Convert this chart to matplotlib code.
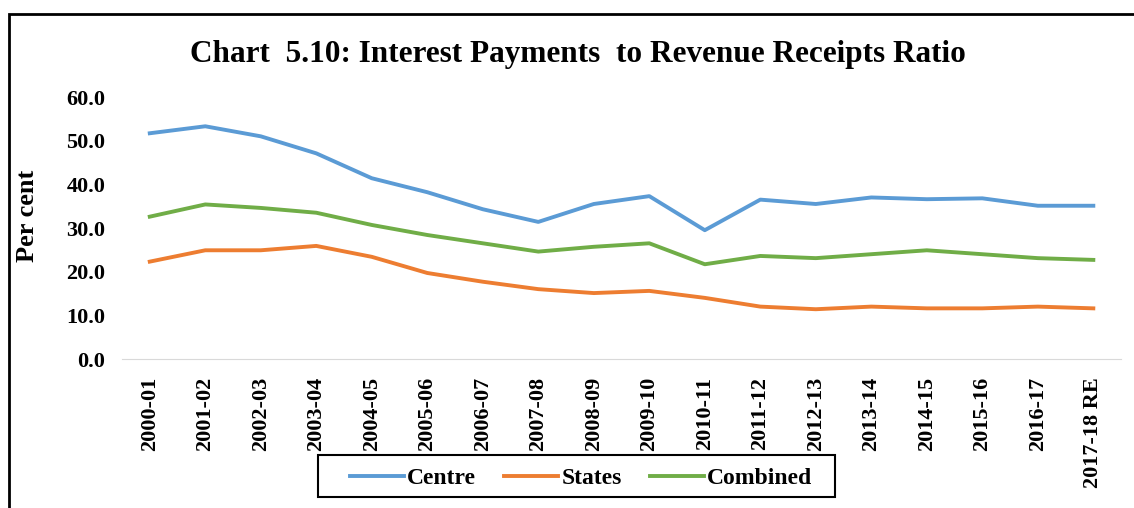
import matplotlib.pyplot as plt
from matplotlib.patches import Rectangle

years = ["2000-01", "2001-02", "2002-03", "2003-04", "2004-05", "2005-06",
         "2006-07", "2007-08", "2008-09", "2009-10", "2010-11", "2011-12",
         "2012-13", "2013-14", "2014-15", "2015-16", "2016-17", "2017-18 RE"]

centre = [51.7, 53.3, 51.0, 47.1, 41.4, 38.2, 34.3, 31.4, 35.5, 37.3,
          29.5, 36.5, 35.5, 37.0, 36.6, 36.8, 35.1, 35.1]
states = [22.3, 24.9, 24.9, 25.9, 23.4, 19.7, 17.7, 16.0, 15.1, 15.6,
          14.0, 12.0, 11.4, 12.0, 11.6, 11.6, 12.0, 11.6]
combined = [32.6, 35.4, 34.6, 33.5, 30.7, 28.4, 26.5, 24.6, 25.7, 26.5,
            21.7, 23.6, 23.1, 24.0, 24.9, 24.0, 23.1, 22.7]

plt.rcParams['font.family'] = ['Liberation Serif', 'DejaVu Serif']
plt.rcParams['font.weight'] = 'bold'

fig = plt.figure(figsize=(11.34, 5.08), dpi=100)

# outer frame, open at the right and bottom edges
fig.patches.append(Rectangle((9 / 1134, -0.1), 1.2, 1.1 - 14 / 508,
                             transform=fig.transFigure, fill=False,
                             edgecolor='black', linewidth=2))

ax = fig.add_axes((0.1076, 0.2933, 0.881, 0.5157))

x = range(len(years))
ax.plot(x, centre, color='#5B9BD5', linewidth=2.8, label='Centre')
ax.plot(x, states, color='#ED7D31', linewidth=2.8, label='States')
ax.plot(x, combined, color='#70AD47', linewidth=2.8, label='Combined')

ax.set_xlim(-0.5, len(years) - 0.5)
ax.set_ylim(0, 60)
ax.set_yticks([0, 10, 20, 30, 40, 50, 60])
ax.set_yticklabels([f"{v:.1f}" for v in [0, 10, 20, 30, 40, 50, 60]],
                   fontsize=16, fontweight='bold')
ax.set_xticks(list(x))
ax.set_xticklabels(years, rotation=90, fontsize=16, fontweight='bold')
ax.tick_params(axis='x', length=0, pad=13)
ax.tick_params(axis='y', length=0, pad=12)

for s in ['top', 'right', 'left']:
    ax.spines[s].set_visible(False)
ax.spines['bottom'].set_color('#d9d9d9')

fig.text(28 / 1134, 0.575, 'Per cent', rotation=90, ha='center', va='center',
         fontsize=19, fontweight='bold')

fig.text(0.5097, 0.892, 'Chart  5.10: Interest Payments  to Revenue Receipts Ratio',
         ha='center', va='center', fontsize=22.5, fontweight='bold')

# legend box sits over the lower tick labels
fig.patches.append(Rectangle((318 / 1134, 11 / 508), 517 / 1134, 42 / 508,
                             transform=fig.transFigure, facecolor='white',
                             edgecolor='black', linewidth=1.5, zorder=4))

leg = fig.legend(loc='center', bbox_to_anchor=(0.5123, 0.058), ncol=3,
                 fontsize=17, frameon=False, handlelength=2.3,
                 handletextpad=0.12, columnspacing=1.2, borderpad=0.3)
leg.set_zorder(5)

plt.savefig('out.png', dpi=100)
